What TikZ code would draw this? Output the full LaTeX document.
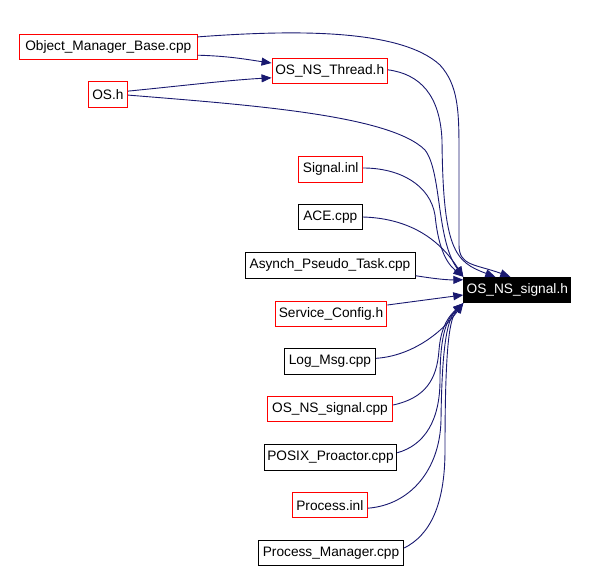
\documentclass[tikz,border=0pt]{standalone}
\usepackage{fontspec}
\setmainfont{Liberation Sans}
\usetikzlibrary{arrows.meta}
\definecolor{edgeblue}{HTML}{191970}
\definecolor{boxred}{HTML}{FF0000}
\begin{document}
\begin{tikzpicture}[x=1pt,y=-1pt,
  box/.style={draw, line width=1pt, minimum height=25.5pt, inner sep=0pt,
    font=\fontsize{13.7}{16}\selectfont, anchor=center},
  redbox/.style={box, draw=boxred, text=black},
  blackbox/.style={box, draw=black},
  hlbox/.style={box, fill=black, draw=black, text=white},
  edge/.style={draw=edgeblue, line width=0.9pt, -{Triangle[length=10pt,width=8pt]}}]
\useasboundingbox (0,0) rectangle (590,571);

\node[blackbox, minimum width=64pt] (ace) at (330.3,217) {ACE.cpp};
\node[blackbox, minimum width=170pt] (asy) at (330,265.3) {Asynch\_Pseudo\_Task.cpp};
\node[hlbox, minimum width=107pt] (sigh) at (517.3,290) {OS\_NS\_signal.h};
\node[blackbox, minimum width=91.4pt] (log) at (330,361.3) {Log\_Msg.cpp};
\node[blackbox, minimum width=132.4pt] (pos) at (330.5,457.3) {POSIX\_Proactor.cpp};
\node[blackbox, minimum width=145.4pt] (pm) at (331,553) {Process\_Manager.cpp};
\node[redbox, minimum width=177.6pt] (omb) at (108.3,46.9) {Object\_Manager\_Base.cpp};
\node[redbox, minimum width=39.6pt] (osh) at (107.9,94.6) {OS.h};
\node[redbox, minimum width=115.3pt] (thr) at (329.7,70.8) {OS\_NS\_Thread.h};
\node[redbox, minimum width=64pt] (sigi) at (330.7,169.3) {Signal.inl};
\node[redbox, minimum width=111.7pt] (svc) at (331,314) {Service\_Config.h};
\node[redbox, minimum width=125.4pt] (nsc) at (330,409) {OS\_NS\_signal.cpp};
\node[redbox, minimum width=75pt] (pin) at (329.8,505.2) {Process.inl};

% edges into OS_NS_Thread.h
\draw[edge] ([yshift=-8.3pt]omb.east) .. controls (230,56) and (250,60) .. ([yshift=7.8pt]thr.west);
\draw[edge] ([yshift=3.5pt]osh.east) .. controls (180,86) and (230,80) .. ([yshift=-7pt]thr.west);

% edges into OS_NS_signal.h from above
\draw[edge] ([yshift=10pt]omb.east) .. controls (290,30) and (400,28) .. (440,65)
  .. controls (458,85) and (459,110) .. (459,150) -- (459,245)
  .. controls (459,266) and (475,264) .. ([xshift=-7pt]sigh.north);
\draw[edge] ([yshift=1pt]thr.east) .. controls (420,74) and (440,95) .. (442,140)
  .. controls (443,250) and (455,262) .. ([xshift=-22pt]sigh.north);
\draw[edge] ([yshift=-0.5pt]osh.east) .. controls (250,105) and (390,115) .. (425,150)
  .. controls (442,172) and (436,240) .. (sigh.north west);
\draw[edge] ([yshift=1.3pt]sigi.east) .. controls (400,168) and (430,185) .. (435,215)
  .. controls (438,245) and (445,262) .. (sigh.north west);
\draw[edge] (ace.east) .. controls (400,218) and (435,232) .. (sigh.north west);

% edges from the side
\draw[edge] ([yshift=-10.4pt]asy.east) .. controls (430,278) and (445,280) .. ([yshift=-3pt]sigh.north west);
\draw[edge] ([yshift=9pt]svc.east) .. controls (410,302) and (440,298) .. ([yshift=-5pt]sigh.west);

% edges from below
\draw[edge] ([yshift=3pt]log.east) .. controls (410,356) and (440,335) .. (sigh.south west);
\draw[edge] ([yshift=4pt]nsc.east) .. controls (425,398) and (437,380) .. (439,350)
  .. controls (441,325) and (450,315) .. (sigh.south west);
\draw[edge] ([yshift=4.5pt]pos.east) .. controls (425,445) and (440,420) .. (440,380)
  .. controls (440,330) and (448,318) .. (sigh.south west);
\draw[edge] ([yshift=-3pt]pin.east) .. controls (410,505) and (440,470) .. (441,420)
  .. controls (442,340) and (448,318) .. (sigh.south west);
\draw[edge] ([yshift=5pt]pm.east) .. controls (430,535) and (445,505) .. (445,450)
  .. controls (445,340) and (450,318) .. (sigh.south west);
\end{tikzpicture}
\end{document}
